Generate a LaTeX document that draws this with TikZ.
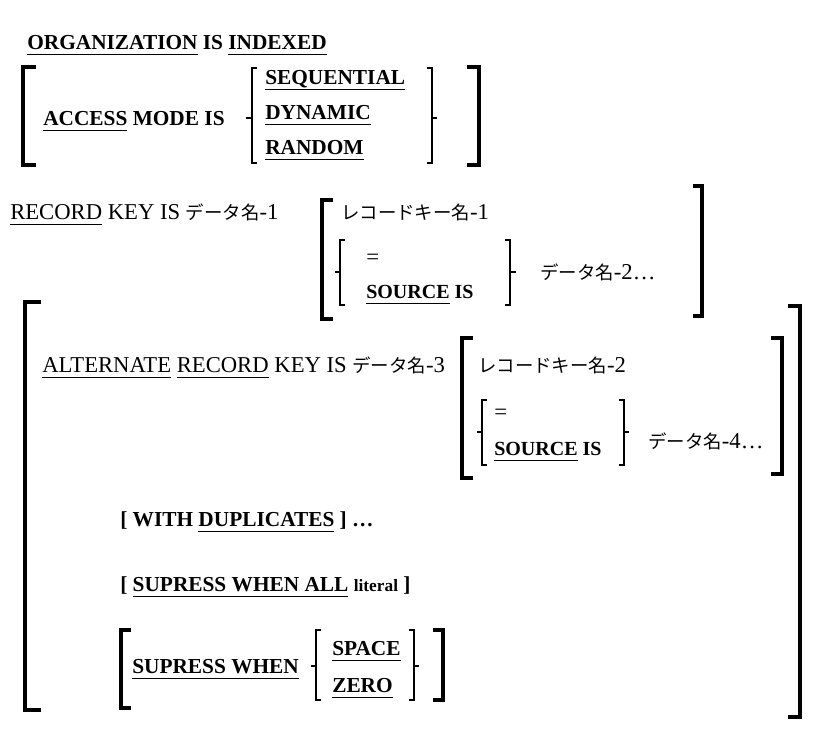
\documentclass[tikz,border=0pt]{standalone}
\usepackage{fontspec}
\setmainfont{Liberation Serif}
\newfontfamily\jpfont{Noto Sans CJK JP}
\newcommand\myul[1]{\setbox0\hbox{#1}\rlap{\rule[-4.4pt]{\wd0}{0.9pt}}\box0\relax}
\newcommand\J[1]{{\jpfont\fontsize{13.8}{16}\selectfont #1}}
\tikzset{
  bt/.style={font=\fontsize{16}{19}\selectfont\bfseries, anchor=base west, inner sep=0pt},
  rt/.style={font=\fontsize{17}{20}\selectfont, anchor=base west, inner sep=0pt},
  bigbr/.style={line width=2.3pt, line join=miter},
  smbr/.style={line width=1pt, line join=miter}
}
\begin{document}
\begin{tikzpicture}[x=0.75pt,y=-0.75pt]
\useasboundingbox (0,0) rectangle (820,732);
% ORGANIZATION / ACCESS MODE
\node[bt] (org) at (27,49) {\myul{ORGANIZATION} IS \myul{INDEXED}};
\node[bt] (acc) at (43,125) {\myul{ACCESS} MODE IS};
\node[bt] (seq) at (265,84) {\myul{SEQUENTIAL}};
\node[bt] (dyn) at (265,119) {\myul{DYNAMIC}};
\node[bt] (ran) at (265,154) {\myul{RANDOM}};
\draw[bigbr] (36,67) -- (23,67) -- (23,165) -- (36,165);
\draw[bigbr] (467,67) -- (479,67) -- (479,165) -- (467,165);
\draw[smbr] (257,68) -- (252,68) -- (252,163) -- (257,163);
\draw[smbr] (252,118) -- (246,118);
\draw[smbr] (427,68) -- (432,68) -- (432,163) -- (427,163);
\draw[smbr] (432,118) -- (437,118);
% RECORD KEY
\node[rt] (rec) at (10,219) {\myul{RECORD} KEY IS \J{データ名}-1};
\node[rt] (rk1) at (341,219) {\J{レコードキー名}-1};
\node[rt] (eq1) at (366,264) {=};
\node[bt, font=\fontsize{15}{18}\selectfont\bfseries] (src1) at (366,298) {\myul{SOURCE} IS};
\node[rt] (dn2) at (540,279) {\J{データ名}-2…};
\draw[bigbr] (333,200) -- (322,200) -- (322,319) -- (333,319);
\draw[bigbr] (693,186) -- (702,186) -- (702,316) -- (693,316);
\draw[smbr] (345,240) -- (340,240) -- (340,305) -- (345,305);
\draw[smbr] (340,272) -- (335,272);
\draw[smbr] (505,240) -- (510,240) -- (510,305) -- (505,305);
\draw[smbr] (510,272) -- (516,272);
% ALTERNATE
\draw[bigbr] (41,302) -- (25,302) -- (25,710) -- (41,710);
\draw[bigbr] (788,306) -- (800,306) -- (800,717) -- (788,717);
\node[rt] (alt) at (42,372) {\myul{ALTERNATE} \myul{RECORD} KEY IS \J{データ名}-3};
\node[rt] (rk2) at (478,372) {\J{レコードキー名}-2};
\node[rt] (eq2) at (494,419) {=};
\node[bt, font=\fontsize{15}{18}\selectfont\bfseries] (src2) at (494,455) {\myul{SOURCE} IS};
\node[rt] (dn4) at (648,448) {\J{データ名}-4…};
\draw[bigbr] (473,338) -- (462,338) -- (462,478) -- (473,478);
\draw[bigbr] (771,338) -- (782,338) -- (782,474) -- (771,474);
\draw[smbr] (487,400) -- (482,400) -- (482,465) -- (487,465);
\draw[smbr] (482,432) -- (477,432);
\draw[smbr] (619,400) -- (624,400) -- (624,465) -- (619,465);
\draw[smbr] (624,432) -- (629,432);
% WITH DUPLICATES / SUPRESS
\node[bt] (dup) at (120,526) {[ WITH \myul{DUPLICATES} ] …};
\node[bt] (sup1) at (120,591) {[ \myul{SUPRESS WHEN ALL} {\fontsize{13}{15}\selectfont literal} ]};
\node[bt] (sup2) at (132,673) {\myul{SUPRESS WHEN}};
\node[bt] (spc) at (332,655) {\myul{SPACE}};
\node[bt] (zer) at (332,692) {\myul{ZERO}};
\draw[bigbr] (131,630) -- (121,630) -- (121,708) -- (131,708);
\draw[bigbr] (433,630) -- (443,630) -- (443,700) -- (433,700);
\draw[smbr] (321,630) -- (316,630) -- (316,700) -- (321,700);
\draw[smbr] (316,666) -- (311,666);
\draw[smbr] (409,630) -- (414,630) -- (414,700) -- (409,700);
\draw[smbr] (414,666) -- (419,666);
\end{tikzpicture}
\end{document}
